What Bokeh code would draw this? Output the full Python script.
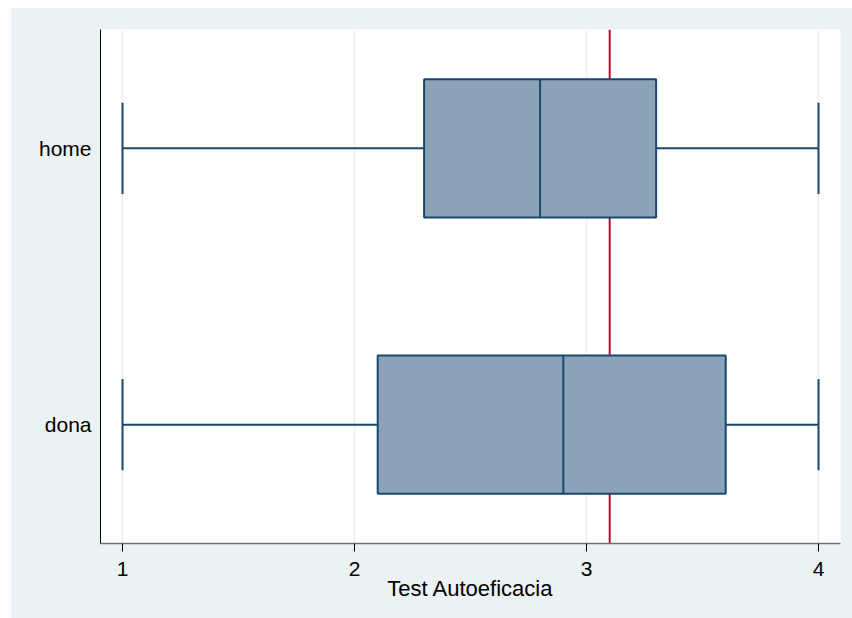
from bokeh.plotting import figure
from bokeh.models import Range1d, FixedTicker, Span, ColumnDataSource
from bokeh.embed import file_html
from bokeh.resources import INLINE

# Box plot summary per group (adjacent values, quartiles, median)
groups = ["home", "dona"]
lower_adj = [1.0, 1.0]
q1 = [2.3, 2.1]
median = [2.8, 2.9]
q3 = [3.3, 3.6]
upper_adj = [4.0, 4.0]
reference_value = 3.1
x_ticks = [1, 2, 3, 4]
x_title = "Test Autoeficacia"

# Styling
NAVY = "#1A476F"
BOX_FILL = "#8CA3B7"
BG = "#EAF2F3"
RED = "#C10534"
FONT = "Liberation Sans"
LABEL_SIZE = "21px"
TITLE_SIZE = "22px"
BOX_HALF = 0.25
CAP_HALF = 0.165

# First group drawn on top
ypos = [len(groups) - i for i in range(len(groups))]

src = ColumnDataSource(dict(
    y=ypos,
    lo=lower_adj, q1=q1, med=median, q3=q3, hi=upper_adj,
    bot=[v - BOX_HALF for v in ypos], top=[v + BOX_HALF for v in ypos],
    cap_bot=[v - CAP_HALF for v in ypos], cap_top=[v + CAP_HALF for v in ypos],
))

p = figure(
    width=842, height=611, margin=(7, 0, 0, 10),
    x_range=Range1d(0.9052, 4.0948), y_range=Range1d(0.57, 2.43),
    output_backend="svg", toolbar_location=None,
    min_border_left=90, min_border_right=12, min_border_top=22, min_border_bottom=75,
)
p.border_fill_color = BG
p.background_fill_color = "white"
p.outline_line_color = None

# Reference line sits behind the boxes
p.add_layout(Span(location=reference_value, dimension="height", line_color=RED,
                  line_width=2, level="underlay"))

# Whiskers and caps
p.segment(x0="lo", y0="y", x1="q1", y1="y", source=src, line_color=NAVY, line_width=2)
p.segment(x0="q3", y0="y", x1="hi", y1="y", source=src, line_color=NAVY, line_width=2)
p.segment(x0="lo", y0="cap_bot", x1="lo", y1="cap_top", source=src, line_color=NAVY, line_width=2)
p.segment(x0="hi", y0="cap_bot", x1="hi", y1="cap_top", source=src, line_color=NAVY, line_width=2)

# Boxes and medians
p.quad(left="q1", right="q3", bottom="bot", top="top", source=src,
       fill_color=BOX_FILL, line_color=NAVY, line_width=2)
p.segment(x0="med", y0="bot", x1="med", y1="top", source=src, line_color=NAVY, line_width=2)

# X axis
xa = p.xaxis[0]
xa.ticker = FixedTicker(ticks=x_ticks)
xa.axis_label = x_title
xa.axis_label_text_font = FONT
xa.axis_label_text_font_size = TITLE_SIZE
xa.axis_label_text_font_style = "normal"
xa.axis_label_text_color = "black"
xa.axis_label_standoff = -3
xa.major_label_text_font = FONT
xa.major_label_text_font_size = LABEL_SIZE
xa.major_label_text_color = "black"
xa.major_label_standoff = 10
xa.axis_line_color = "#707070"
xa.axis_line_width = 1.5
xa.major_tick_line_color = "black"
xa.major_tick_in = 0
xa.major_tick_out = 8
xa.minor_tick_line_color = None

# Y axis with group names
ya = p.yaxis[0]
ya.ticker = FixedTicker(ticks=ypos)
ya.major_label_overrides = {v: g for v, g in zip(ypos, groups)}
ya.major_label_text_font = FONT
ya.major_label_text_font_size = LABEL_SIZE
ya.major_label_text_color = "black"
ya.major_label_standoff = 3
ya.axis_line_color = "black"
ya.axis_line_width = 1
ya.major_tick_line_color = None
ya.minor_tick_line_color = None

p.xgrid.grid_line_color = BG
p.xgrid.grid_line_width = 1.5
p.ygrid.visible = False

open("out.html", "w").write(file_html(p, INLINE))
